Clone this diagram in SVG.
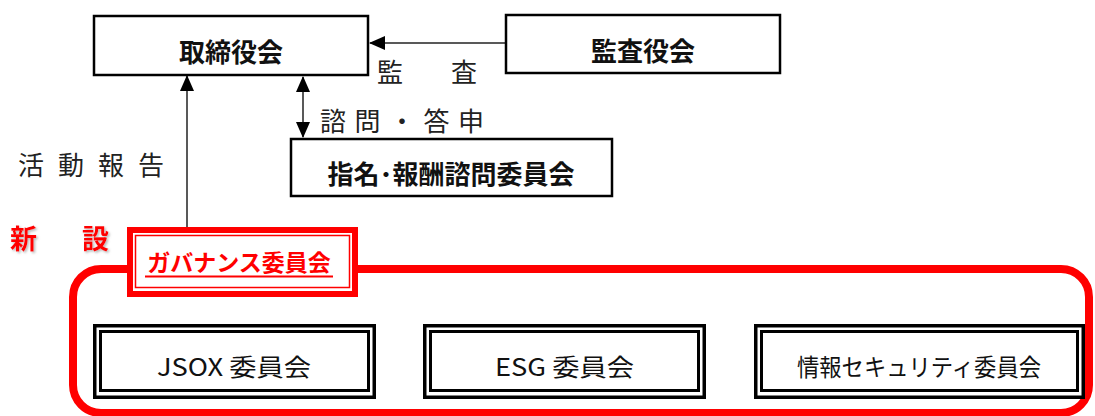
<svg xmlns="http://www.w3.org/2000/svg" width="1095" height="416" viewBox="0 0 1095 416">
  <style>
    .box { fill: #fff; stroke: #000; stroke-width: 2.5; }
    .title { font-family: "Noto Sans CJK JP", "Noto Sans", sans-serif; font-weight: 700; font-size: 26px; fill: #111; text-anchor: middle; }
    .lbl { font-family: "Noto Sans CJK JP", "Noto Sans", sans-serif; font-weight: 400; font-size: 26px; fill: #222; }
    .conn { stroke: #222; stroke-width: 1.5; fill: none; }
    .dbl-out { fill: #fff; stroke: #000; stroke-width: 3.5; }
    .dbl-in { fill: none; stroke: #000; stroke-width: 3; }
    .cm { font-family: "Noto Sans CJK JP", "Noto Sans", sans-serif; font-weight: 400; font-size: 24px; fill: #111; }
  </style>
  <defs>
    <marker id="ah" markerUnits="userSpaceOnUse" markerWidth="16" markerHeight="14" refX="15" refY="7" orient="auto-start-reverse" viewBox="0 0 16 14">
      <path d="M0,0 L16,7 L0,14 z" fill="#000"/>
    </marker>
    <filter id="sh" x="-20%" y="-20%" width="140%" height="140%">
      <feDropShadow dx="1.5" dy="1.5" stdDeviation="1" flood-color="#888" flood-opacity="0.6"/>
    </filter>
  </defs>
  <rect width="1095" height="416" fill="#fff"/>

  <!-- Governance frame -->
  <g id="frame">
    <rect x="73" y="269" width="1016" height="144" rx="28" ry="28" fill="none" stroke="#ff0000" stroke-width="8"/>
  </g>

  <g id="connectors">
    <line class="conn" x1="505" y1="43" x2="370" y2="43" marker-end="url(#ah)"/>
    <line class="conn" x1="187" y1="227" x2="187" y2="76" marker-end="url(#ah)"/>
    <line class="conn" x1="303" y1="77" x2="303" y2="137" marker-start="url(#ah)" marker-end="url(#ah)"/>
    <text class="lbl" x="377" y="82">監</text>
    <text class="lbl" x="451" y="82">査</text>
    <text class="lbl" x="320" y="131" letter-spacing="8.5">諮問・答申</text>
    <text class="lbl" x="18" y="175" letter-spacing="14">活動報告</text>
  </g>

  <g id="board">
    <rect class="box" x="94" y="16" width="274" height="59"/>
    <text class="title" x="231" y="62">取締役会</text>
  </g>

  <g id="audit">
    <rect class="box" x="506" y="15" width="274" height="58"/>
    <text class="title" x="643" y="61">監査役会</text>
  </g>

  <g id="nomination">
    <rect class="box" x="291" y="139" width="321" height="57"/>
    <text class="title" x="451" y="184">指名･報酬諮問委員会</text>
  </g>

  <g id="new-label" filter="url(#sh)">
    <text x="10" y="249" font-family="Noto Sans CJK JP, sans-serif" font-weight="700" font-size="27px" fill="#ff0000">新</text>
    <text x="82" y="249" font-family="Noto Sans CJK JP, sans-serif" font-weight="700" font-size="27px" fill="#ff0000">設</text>
  </g>

  <g id="governance">
    <rect x="130" y="230" width="225" height="64" fill="#fff" stroke="#ff0000" stroke-width="6"/>
    <rect x="135.5" y="235.5" width="214" height="52" fill="none" stroke="#ff0000" stroke-width="1.5"/>
    <text x="239" y="271" text-anchor="middle" font-family="Noto Sans CJK JP, sans-serif" font-weight="700" font-size="23px" fill="#ff0000">ガバナンス委員会</text>
    <line x1="145" y1="276.5" x2="333" y2="276.5" stroke="#ff0000" stroke-width="2"/>
  </g>

  <g id="jsox">
    <rect class="dbl-out" x="94.75" y="325.75" width="279.5" height="71.5"/>
    <rect class="dbl-in" x="100.5" y="331.5" width="268" height="59"/>
    <text class="cm" x="157" y="376" textLength="154" lengthAdjust="spacingAndGlyphs">JSOX 委員会</text>
  </g>

  <g id="esg">
    <rect class="dbl-out" x="424.75" y="325.75" width="279.5" height="71.5"/>
    <rect class="dbl-in" x="430.5" y="331.5" width="268" height="59"/>
    <text class="cm" x="495" y="376" textLength="139" lengthAdjust="spacingAndGlyphs">ESG 委員会</text>
  </g>

  <g id="infosec">
    <rect class="dbl-out" x="755.75" y="325.75" width="327.5" height="71.5"/>
    <rect class="dbl-in" x="761.5" y="331.5" width="316" height="59"/>
    <text class="cm" x="797" y="376" textLength="244" lengthAdjust="spacingAndGlyphs">情報セキュリティ委員会</text>
  </g>
</svg>
